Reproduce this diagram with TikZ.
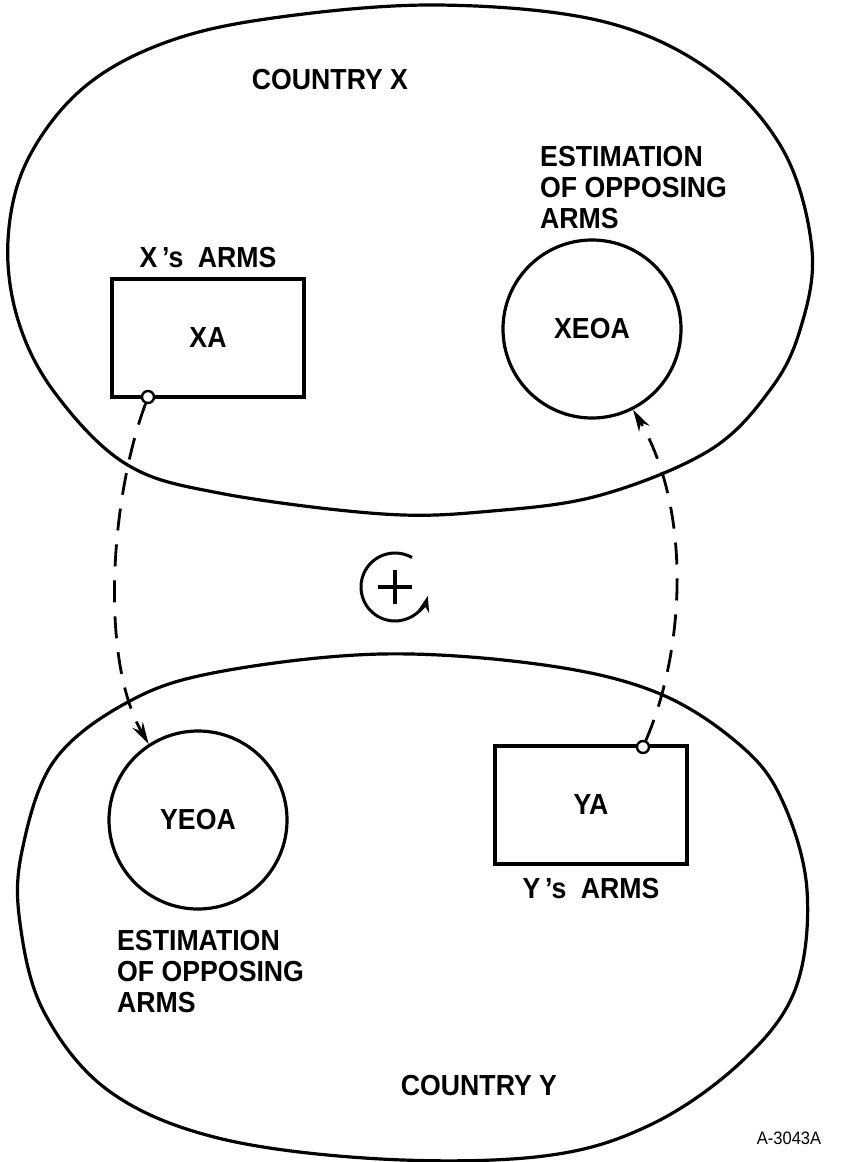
\documentclass[tikz,border=0pt]{standalone}
\usepackage{fontspec}
\setmainfont[FakeStretch=0.92]{Liberation Sans}
\usetikzlibrary{arrows.meta,positioning}

\tikzset{
  lbl/.style={font=\fontsize{29}{31}\selectfont\bfseries, inner sep=0pt},
  armsbox/.style={draw, line width=3.6pt, minimum width=192pt, minimum height=118pt, lbl},
  estcircle/.style={draw, circle, line width=3.2pt, minimum size=178pt, lbl},
  tap/.style={draw, circle, line width=2.4pt, fill=white, inner sep=0pt, minimum size=12pt},
  link/.style={line width=2.8pt, dash pattern=on 22pt off 14pt, -{Stealth[length=22pt,width=12pt]}},
  country/.style={line width=3.2pt}
}

\begin{document}
\begin{tikzpicture}[x=1pt,y=-1pt]
\useasboundingbox (0,0) rectangle (853,1162);

% country X
\draw[country] plot[smooth cycle, tension=0.6] coordinates {(437,5) (601,21) (711,71) (783,150) (812,250) (800,330) (770,390) (710,450) (601,495) (492,511) (383,514) (219,493) (126,464) (55,393) (18,320) (8,240) (27,161) (82,89) (164,43) (273,18)};
\node[lbl] (countryX) at (330,80) {COUNTRY X};
\node[armsbox] (xa) at (208,338) {XA};
\node[lbl, above=9pt of xa] (xarms) {X\,'s\enspace ARMS};
\node[estcircle] (xeoa) at (592,329) {XEOA};
\node[lbl, align=left, anchor=north west] (xest) at (540,146) {ESTIMATION\\OF OPPOSING\\ARMS};
\node[tap] (xtap) at (148,397) {};

% country Y
\draw[country] plot[smooth cycle, tension=0.6] coordinates {(381,654) (544,665) (658,693) (740,745) (782,800) (807,890) (795,990) (740,1063) (650,1125) (544,1156) (381,1159) (218,1138) (109,1091) (44,1012) (20,923) (22,851) (54,761) (128,702) (218,672)};
\node[lbl] (countryY) at (479,1086) {COUNTRY Y};
\node[armsbox] (ya) at (591,805) {YA};
\node[lbl, below=12pt of ya] (yarms) {Y\,'s\enspace ARMS};
\node[estcircle] (yeoa) at (198,820) {YEOA};
\node[lbl, align=left, anchor=north west] (yest) at (117,930) {ESTIMATION\\OF OPPOSING\\ARMS};
\node[tap] (ytap) at (643,747) {};

% mutual estimation
\draw[link] (xtap) .. controls (110,500) and (100,660) .. (yeoa.123);
\draw[link] (ytap) .. controls (685,650) and (692,510) .. (xeoa.-63);

% positive loop
\coordinate (loop) at (395,587);
\draw[line width=3pt, -{Stealth[length=16pt,width=11pt]}] ([shift={(-60:34)}]loop) arc[start angle=-60, end angle=-345, radius=34];
\draw[line width=3.4pt] ([xshift=-17pt]loop) -- ([xshift=17pt]loop) ([yshift=-17pt]loop) -- ([yshift=17pt]loop);

\node[font=\fontsize{18}{18}\selectfont] (drawno) at (789,1138) {A-3043A};
\end{tikzpicture}
\end{document}
